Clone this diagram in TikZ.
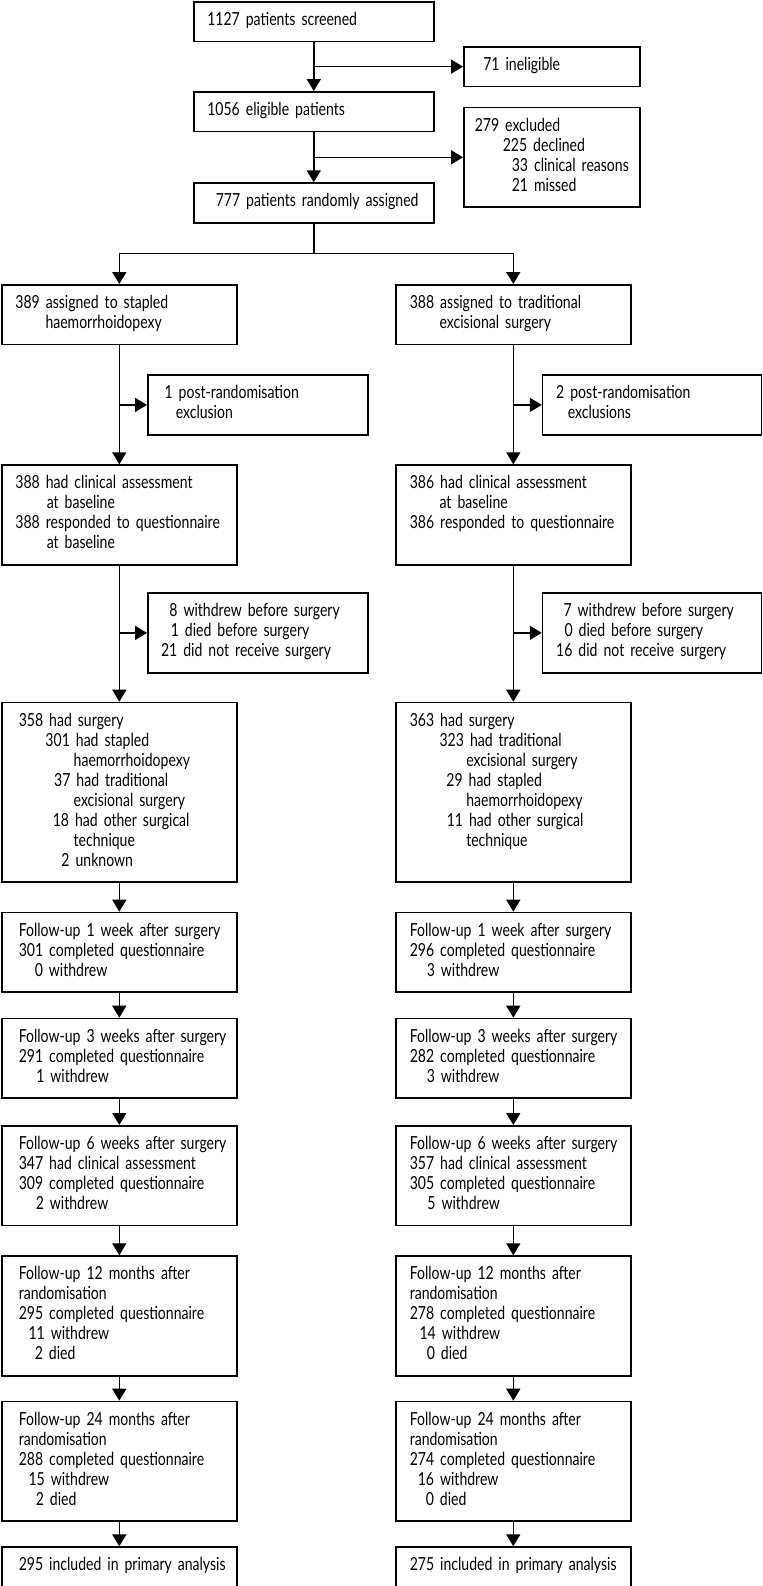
\documentclass[tikz,border=0pt]{standalone}
\usepackage{fontspec}
\setmainfont[FakeStretch=0.78]{Lato}
\usetikzlibrary{arrows.meta}
\newcommand\hin[1]{\hspace*{#1pt}}
\newcommand\fs{\fontsize{9}{10}\selectfont}
\tikzset{
  box/.style={draw, line width=0.8pt, anchor=north west, inner xsep=0pt, inner ysep=4.9pt,
    align=left, font=\fs, execute at begin node={\leavevmode\strut}, execute at end node={\strut}},
  colbox/.style={box, text width=117.5pt},
  topbox/.style={box, text width=120pt},
  sidebox/.style={box, text width=88pt},
  exbox/.style={box, text width=110pt},
  arr/.style={line width=0.8pt, -{Triangle[length=6pt,width=7pt]}},
  ln/.style={line width=0.8pt}
}
\begin{document}
\begin{tikzpicture}[x=0.5pt,y=-0.5pt]
\useasboundingbox[fill=white] (0,0) rectangle (762,1586);

\node[topbox] (top) at (193,1) {\hin{6.75}1127 patients screened};
\node[sidebox] (inel) at (463,46) {\hin{9.75}71 ineligible};
\node[topbox] (elig) at (193,91) {\hin{6.75}1056 eligible patients};
\node[sidebox] (excl) at (463,106.7) {\hin{5.5}279 excluded\\\hin{19.5}225 declined\\\hin{24}33 clinical reasons\\\hin{24}21 missed};
\node[topbox] (rand) at (193,182.3) {\hin{11}777 patients randomly assigned};

\node[colbox] (A1) at (1,284) {\hin{6.8}389 assigned to stapled\\\hin{21.85}haemorrhoidopexy};
\node[colbox] (B1) at (395,284) {\hin{7}388 assigned to traditional\\\hin{21.9}excisional surgery};
\node[exbox] (EA1) at (147,374.3) {\hin{8.4}1 post-randomisation\\\hin{14}exclusion};
\node[box, text width=109.4pt] (EB1) at (541.8,374.3) {\hin{6.8}2 post-randomisation\\\hin{12.6}exclusions};

\node[colbox] (A2) at (1,464.3) {\hin{6.8}388 had clinical assessment\\\hin{22.5}at baseline\\\hin{6.8}388 responded to questionnaire\\\hin{22.5}at baseline};
\node[colbox] (B2) at (395,464.3) {\hin{7}386 had clinical assessment\\\hin{21.9}at baseline\\\hin{7}386 responded to questionnaire\\~};
\node[exbox] (EA2) at (147,592.3) {\hin{10.8}8 withdrew before surgery\\\hin{11.5}1 died before surgery\\\hin{6.65}21 did not receive surgery};
\node[box, text width=109.4pt] (EB2) at (541.8,592.3) {\hin{10.45}7 withdrew before surgery\\\hin{10.95}0 died before surgery\\\hin{6.8}16 did not receive surgery};

\node[colbox] (A3) at (1,701.7) {\hin{8.5}358 had surgery\\\hin{21.85}301 had stapled\\\hin{35.95}haemorrhoidopexy\\\hin{26.2}37 had traditional\\\hin{35.95}excisional surgery\\\hin{25.5}18 had other surgical\\\hin{35.95}technique\\\hin{29.85}2 unknown};
\node[colbox] (B3) at (395,701.7) {\hin{7}363 had surgery\\\hin{21.9}323 had traditional\\\hin{35.25}excisional surgery\\\hin{25.3}29 had stapled\\\hin{35.25}haemorrhoidopexy\\\hin{25.5}11 had other surgical\\\hin{35.25}technique\\~};

\node[colbox] (A4) at (1,911.7) {\hin{8.5}Follow-up 1 week after surgery\\\hin{8.5}301 completed questionnaire\\\hin{16.5}0 withdrew};
\node[colbox] (B4) at (395,911.7) {\hin{7}Follow-up 1 week after surgery\\\hin{7}296 completed questionnaire\\\hin{15.5}3 withdrew};

\node[colbox] (A5) at (1,1017.7) {\hin{8.5}Follow-up 3 weeks after surgery\\\hin{8.5}291 completed questionnaire\\\hin{17.25}1 withdrew};
\node[colbox] (B5) at (395,1017.7) {\hin{7}Follow-up 3 weeks after surgery\\\hin{7}282 completed questionnaire\\\hin{15.5}3 withdrew};

\node[colbox] (A6) at (1,1125) {\hin{8.5}Follow-up 6 weeks after surgery\\\hin{8.5}347 had clinical assessment\\\hin{8.5}309 completed questionnaire\\\hin{17}2 withdrew};
\node[colbox] (B6) at (395,1125) {\hin{7}Follow-up 6 weeks after surgery\\\hin{7}357 had clinical assessment\\\hin{7}305 completed questionnaire\\\hin{15.8}5 withdrew};

\node[colbox] (A7) at (1,1255.3) {\hin{8.5}Follow-up 12 months after\\\hin{8.5}randomisation\\\hin{8.5}295 completed questionnaire\\\hin{13.35}11 withdrew\\\hin{16.5}2 died};
\node[colbox] (B7) at (395,1255.3) {\hin{7}Follow-up 12 months after\\\hin{7}randomisation\\\hin{7}278 completed questionnaire\\\hin{11.9}14 withdrew\\\hin{15.5}0 died};

\node[colbox] (A8) at (1,1400.7) {\hin{8.5}Follow-up 24 months after\\\hin{8.5}randomisation\\\hin{8.5}288 completed questionnaire\\\hin{13.35}15 withdrew\\\hin{17}2 died};
\node[colbox] (B8) at (395,1400.7) {\hin{7}Follow-up 24 months after\\\hin{7}randomisation\\\hin{7}274 completed questionnaire\\\hin{11}16 withdrew\\\hin{15}0 died};

\node[colbox] (A9) at (1,1546.3) {\hin{8.5}295 included in primary analysis};
\node[colbox] (B9) at (395,1546.3) {\hin{7}275 included in primary analysis};

% top connectors
\draw[arr] (top.south) -- (elig.north);
\draw[arr] (top.south |- inel.west) -- (inel.west);
\draw[arr] (elig.south) -- (rand.north);
\draw[arr] (elig.south |- excl.west) -- (excl.west);
\path (rand.south) ++(0,30) coordinate (split);
\draw[ln] (rand.south) -- (split);
\draw[arr] (split) -| (A1.north);
\draw[arr] (split) -| (B1.north);

% columns
\foreach \c in {A,B}{
  \draw[arr] (\c1.south) -- (\c2.north);
  \draw[arr] (\c1.south |- E\c1.west) -- (E\c1.west);
  \draw[arr] (\c2.south) -- (\c3.north);
  \draw[arr] (\c2.south |- E\c2.west) -- (E\c2.west);
  \draw[arr] (\c3.south) -- (\c4.north);
  \draw[arr] (\c4.south) -- (\c5.north);
  \draw[arr] (\c5.south) -- (\c6.north);
  \draw[arr] (\c6.south) -- (\c7.north);
  \draw[arr] (\c7.south) -- (\c8.north);
  \draw[arr] (\c8.south) -- (\c9.north);
}
\end{tikzpicture}
\end{document}
